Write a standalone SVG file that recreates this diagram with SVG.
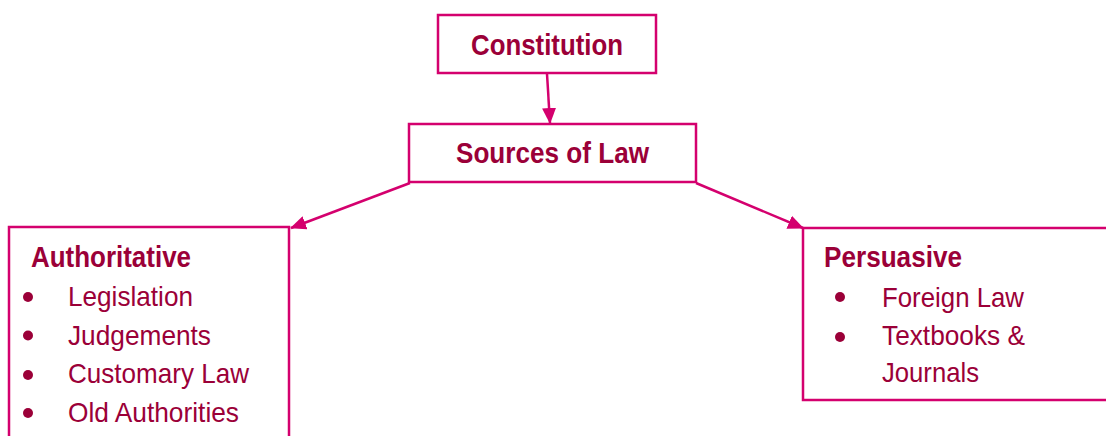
<svg xmlns="http://www.w3.org/2000/svg" width="1106" height="436" viewBox="0 0 1106 436">
  <defs>
    <style>
      .box { fill: #ffffff; stroke: #D4006E; stroke-width: 2.5; }
      .link { fill: none; stroke: #D4006E; stroke-width: 2.5; }
      .title { font-family: "Liberation Sans", Arial, sans-serif; font-weight: bold; font-size: 30px; fill: #9B0038; }
      .item { font-family: "Liberation Sans", Arial, sans-serif; font-size: 28.5px; fill: #9B0038; }
      .dot { fill: #9B0038; }
    </style>
    <marker id="arrow" markerUnits="userSpaceOnUse" markerWidth="16" markerHeight="14" refX="15" refY="7" orient="auto">
      <path d="M0,0 L16,7 L0,14 Z" fill="#D4006E"/>
    </marker>
  </defs>

  <!-- connectors -->
  <g id="connectors">
    <line class="link" x1="547" y1="74" x2="550" y2="123" marker-end="url(#arrow)"/>
    <line class="link" x1="410" y1="183" x2="291" y2="228" marker-end="url(#arrow)"/>
    <line class="link" x1="696" y1="183" x2="803" y2="228" marker-end="url(#arrow)"/>
  </g>

  <!-- top node -->
  <g id="constitution">
    <rect class="box" x="438" y="15" width="218" height="58"/>
    <text class="title" x="471" y="55" textLength="152" lengthAdjust="spacingAndGlyphs">Constitution</text>
  </g>

  <!-- central node -->
  <g id="sources-of-law">
    <rect class="box" x="409" y="124" width="287" height="58"/>
    <text class="title" x="456" y="163" textLength="193" lengthAdjust="spacingAndGlyphs">Sources of Law</text>
  </g>

  <!-- left branch -->
  <g id="authoritative">
    <rect class="box" x="9" y="227" width="280" height="230"/>
    <text class="title" x="31" y="267" textLength="160" lengthAdjust="spacingAndGlyphs">Authoritative</text>
    <circle class="dot" cx="28" cy="297" r="5"/>
    <text class="item" x="68" y="306" textLength="125" lengthAdjust="spacingAndGlyphs">Legislation</text>
    <circle class="dot" cx="28" cy="335.5" r="5"/>
    <text class="item" x="68" y="345" textLength="143" lengthAdjust="spacingAndGlyphs">Judgements</text>
    <circle class="dot" cx="28" cy="375" r="5"/>
    <text class="item" x="68" y="383" textLength="181" lengthAdjust="spacingAndGlyphs">Customary Law</text>
    <circle class="dot" cx="28" cy="413" r="5"/>
    <text class="item" x="68" y="422" textLength="171" lengthAdjust="spacingAndGlyphs">Old Authorities</text>
  </g>

  <!-- right branch -->
  <g id="persuasive">
    <rect class="box" x="803" y="228" width="320" height="172"/>
    <text class="title" x="824" y="267" textLength="138" lengthAdjust="spacingAndGlyphs">Persuasive</text>
    <circle class="dot" cx="840" cy="297" r="5"/>
    <text class="item" x="882" y="307" textLength="142" lengthAdjust="spacingAndGlyphs">Foreign Law</text>
    <circle class="dot" cx="840" cy="337" r="5"/>
    <text class="item" x="882" y="345" textLength="143" lengthAdjust="spacingAndGlyphs">Textbooks &amp;</text>
    <text class="item" x="882" y="382" textLength="97" lengthAdjust="spacingAndGlyphs">Journals</text>
  </g>
</svg>
